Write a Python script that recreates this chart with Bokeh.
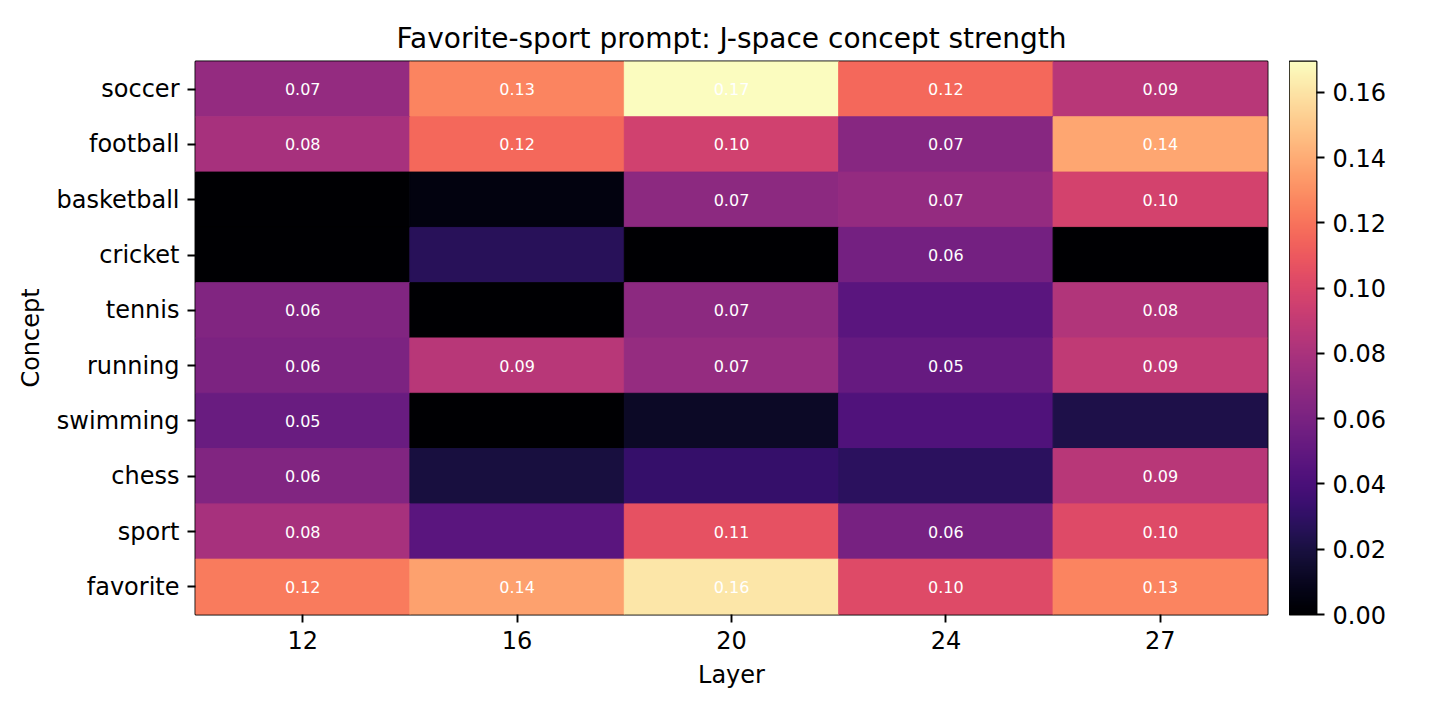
import math
import numpy as np
from bokeh.plotting import figure
from bokeh.layouts import row
from bokeh.models import (ColumnDataSource, LinearColorMapper, FixedTicker,
                          NumeralTickFormatter, Label, Range1d, FactorRange)
from bokeh.palettes import Magma256
from bokeh.transform import transform
from bokeh.core.properties import value
from bokeh.embed import file_html
from bokeh.resources import INLINE

# Layers (columns) and concepts (rows, top to bottom)
layers = ["12", "16", "20", "24", "27"]
concepts = ["soccer", "football", "basketball", "cricket", "tennis",
            "running", "swimming", "chess", "sport", "favorite"]

# Max sparse coefficient per concept, one entry per layer
soccer = [0.071, 0.126, 0.1695, 0.116, 0.086]
football = [0.079, 0.116, 0.096, 0.066, 0.138]
basketball = [0.0, 0.005, 0.068, 0.071, 0.097]
cricket = [0.0, 0.027, 0.0, 0.058, 0.0]
tennis = [0.063, 0.0, 0.068, 0.047, 0.083]
running = [0.061, 0.086, 0.072, 0.052, 0.089]
swimming = [0.053, 0.0, 0.012, 0.043, 0.022]
chess = [0.063, 0.0195, 0.032, 0.028, 0.086]
sport = [0.079, 0.047, 0.106, 0.059, 0.102]
favorite = [0.123, 0.136, 0.161, 0.102, 0.126]

rows = [soccer, football, basketball, cricket, tennis,
        running, swimming, chess, sport, favorite]

vmin = 0.0
vmax = max(max(r) for r in rows)
label_threshold = 0.05
cbar_ticks = [0.0, 0.02, 0.04, 0.06, 0.08, 0.10, 0.12, 0.14, 0.16]

FONT = "DejaVu Sans"
TICK_PX = "24px"

xs, ys, vals, labels = [], [], [], []
for concept, r in zip(concepts, rows):
    for layer, v in zip(layers, r):
        xs.append(layer)
        ys.append(concept)
        vals.append(v)
        labels.append(f"{v:.2f}" if v >= label_threshold else "")

src = ColumnDataSource(dict(x=xs, y=ys, v=vals, label=labels))
mapper = LinearColorMapper(palette=Magma256, low=vmin, high=vmax)

p = figure(width=1289, height=714,
           x_range=FactorRange(*layers),
           y_range=FactorRange(*reversed(concepts)),
           output_backend="svg", toolbar_location=None,
           min_border_left=195, min_border_right=22,
           min_border_top=61, min_border_bottom=100)

p.rect(x="x", y="y", width=1, height=1, source=src,
       fill_color=transform("v", mapper),
       line_color=transform("v", mapper), line_width=1)
p.text(x="x", y="y", text="label", source=src,
       text_align="center", text_baseline="middle",
       text_color="white", text_font=value(FONT), text_font_size="16px")

p.title.text = "Favorite-sport prompt: J-space concept strength"
p.title.align = "center"
p.title.text_font = FONT
p.title.text_font_size = "28px"
p.title.text_font_style = "normal"
p.title.text_color = "black"
p.title.standoff = 13

p.xgrid.visible = False
p.ygrid.visible = False
p.outline_line_color = "black"
p.outline_line_width = 1.9
p.x_range.range_padding = 0
p.y_range.range_padding = 0

for ax in (p.xaxis[0], p.yaxis[0]):
    ax.axis_line_color = None
    ax.major_tick_line_color = "black"
    ax.major_tick_line_width = 1.9
    ax.major_tick_out = 8
    ax.major_tick_in = 0
    ax.minor_tick_line_color = None
    ax.major_label_text_font = FONT
    ax.major_label_text_font_size = TICK_PX
    ax.major_label_text_color = "black"
    ax.major_label_standoff = 8
    ax.axis_label_text_font = FONT
    ax.axis_label_text_font_size = TICK_PX
    ax.axis_label_text_font_style = "normal"
    ax.axis_label_text_color = "black"
    ax.axis_label_standoff = 9

p.xaxis.axis_label = "Layer"
p.yaxis.axis_label = "Concept"

# Colour bar drawn as its own narrow plot
cb = figure(width=156, height=714, x_range=Range1d(0, 1),
            y_range=Range1d(vmin, vmax),
            output_backend="svg", toolbar_location=None,
            x_axis_location=None, y_axis_location="right",
            min_border_left=0, min_border_right=129,
            min_border_top=61, min_border_bottom=100)
grad = np.linspace(vmin, vmax, 256).reshape(256, 1)
cb.image(image=[grad], x=0, y=vmin, dw=1, dh=vmax - vmin, color_mapper=mapper)
cb.xgrid.visible = False
cb.ygrid.visible = False
cb.outline_line_color = "black"
cb.outline_line_width = 1.9
cax = cb.yaxis[0]
cax.ticker = FixedTicker(ticks=cbar_ticks)
cax.formatter = NumeralTickFormatter(format="0.00")
cax.axis_line_color = None
cax.major_tick_line_color = "black"
cax.major_tick_line_width = 1.9
cax.major_tick_out = 8
cax.major_tick_in = 0
cax.minor_tick_line_color = None
cax.major_label_text_font = FONT
cax.major_label_text_font_size = TICK_PX
cax.major_label_text_color = "black"
cax.major_label_standoff = 8

cb.add_layout(Label(x=4.3, y=(vmin + vmax) / 2, text="Max sparse coefficient",
                    angle=math.pi / 2, text_align="center", text_baseline="middle",
                    text_font=FONT, text_font_size=TICK_PX, text_color="black"))

layout = row(p, cb)
open("out.html", "w").write(file_html(layout, INLINE))
